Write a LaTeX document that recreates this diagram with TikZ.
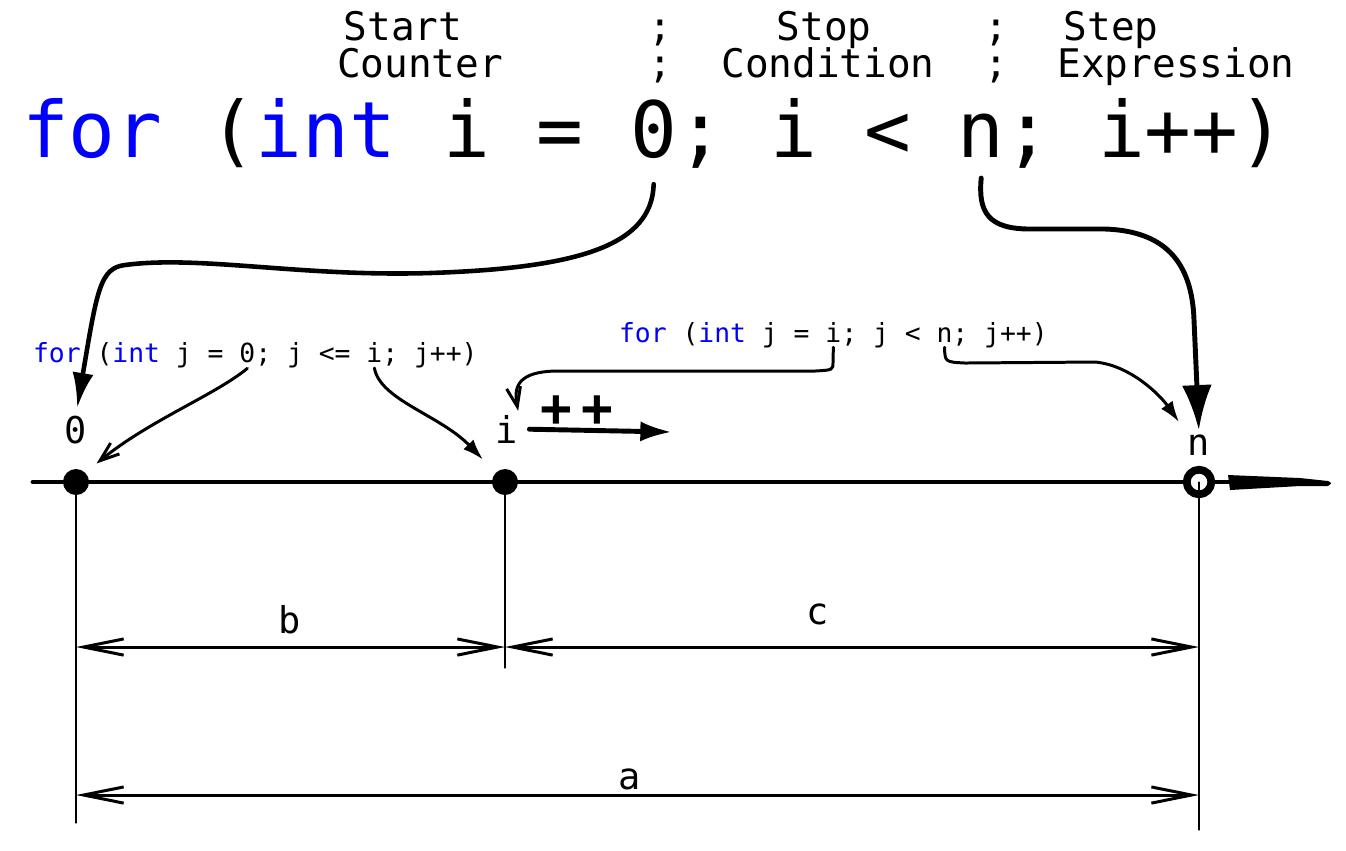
\documentclass[tikz,border=0pt]{standalone}
\usepackage{fontspec}
\newfontfamily\codefont{DejaVu Sans Mono}
\usetikzlibrary{arrows.meta}
\definecolor{keyword}{RGB}{0,0,255}
\newcommand{\kw}[1]{\textcolor{keyword}{#1}}
\newcommand{\codesp}{\mbox{\ }}

\begin{document}
\begin{tikzpicture}[x=0.01cm, y=-0.01cm, line cap=round, line join=round,
    bigcode/.style={inner sep=0, outer sep=0, anchor=base west, font=\codefont\fontsize{22.1}{26}\selectfont},
    smallcode/.style={inner sep=0, outer sep=0, anchor=base west, font=\codefont\fontsize{7.5}{9}\selectfont},
    headtxt/.style={inner sep=0, anchor=base, font=\codefont\fontsize{11.2}{13}\selectfont},
    lbl/.style={inner sep=0, anchor=base, font=\codefont\fontsize{10.5}{12}\selectfont},
    plustxt/.style={inner sep=0, font=\codefont\bfseries\fontsize{15}{17}\selectfont},
    ptdot/.style={circle, fill, inner sep=0, minimum size=7.4pt},
    ptring/.style={circle, draw, fill=white, line width=2.2pt, inner sep=0, minimum size=7pt},
    numline/.style={line width=1.4pt},
    extline/.style={line width=0.3pt},
    dimarrow/.style={line width=0.85pt, {Straight Barb[length=11.4pt,width=4.6pt]}-{Straight Barb[length=11.4pt,width=4.6pt]}},
    bigarrow/.style={line width=1.4pt, -{Latex[length=12.8pt,width=8.5pt]}},
    midarrow/.style={line width=1.3pt, -{Latex[length=10pt,width=6pt]}},
    thinarrow/.style={line width=0.85pt, -{Latex[length=6pt,width=4pt]}},
    thinbarb/.style={line width=0.85pt, -{Straight Barb[length=5.5pt,width=4pt]}}]
  \useasboundingbox (0,0) rectangle (1346,850);

  % headings above the loop
  \node[headtxt] (hstart) at (403,40) {Start};
  \node[headtxt] (hcounter) at (420,77) {Counter};
  \node[headtxt] (hsemi1) at (660,40) {;};
  \node[headtxt] (hsemi2) at (660,77) {;};
  \node[headtxt] (hstop) at (824,40) {Stop};
  \node[headtxt] (hcond) at (828,77) {Condition};
  \node[headtxt] (hsemi3) at (996,40) {;};
  \node[headtxt] (hsemi4) at (996,77) {;};
  \node[headtxt] (hstep) at (1111,40) {Step};
  \node[headtxt] (hexpr) at (1176,77) {Expression};

  % outer loop
  \node[bigcode] (c1) at (22,157) {\kw{for} (\kw{int} i =\codesp};
  \node[bigcode] (czero) at (c1.base east) {0};
  \node[bigcode] (c2) at (czero.base east) {; i <\codesp};
  \node[bigcode] (cn) at (c2.base east) {n};
  \node[bigcode] (c3) at (cn.base east) {; i++)};

  % inner loops
  \node[smallcode] (s1a) at (33,362) {\kw{for} (\kw{int} j =\codesp};
  \node[smallcode] (s1zero) at (s1a.base east) {0};
  \node[smallcode] (s1b) at (s1zero.base east) {; j <=\codesp};
  \node[smallcode] (s1i) at (s1b.base east) {i};
  \node[smallcode] (s1c) at (s1i.base east) {; j++)};
  \node[smallcode] (s2a) at (619,342) {\kw{for} (\kw{int} j =\codesp};
  \node[smallcode] (s2i) at (s2a.base east) {i};
  \node[smallcode] (s2b) at (s2i.base east) {; j <\codesp};
  \node[smallcode] (s2n) at (s2b.base east) {n};
  \node[smallcode] (s2c) at (s2n.base east) {; j++)};

  % number line
  \coordinate (lstart) at (33,482);
  \coordinate (lend) at (1228,482);
  \draw[numline] (lstart) -- (lend);
  \fill (1228,475) -- (1300,478) -- (1328,481) .. controls (1332,483) .. (1328,486) -- (1300,486) -- (1230,490) -- cycle;
  \node[ptdot] (p0) at (76,482) {};
  \node[ptdot] (pi) at (505,482) {};
  \node[ptring] (pn) at (1199,482) {};
  \node[lbl] (lzero) at (76,443) {0};
  \node[lbl] (li) at (507,443) {i};
  \node[lbl] (ln) at (1199,455) {n};

  % i++
  \coordinate (incr) at (672,432);
  \draw[line width=1.4pt, -{Latex[length=9pt,width=5.7pt]}, shorten <=3pt] (li.east) -- (incr);
  \node[plustxt] (incrlbl) at (577,411) {+\hspace{2.7pt}+};

  % extension lines
  \coordinate (e0) at (76,823);
  \coordinate (ei) at (505,668);
  \coordinate (en) at (1199,830);
  \draw[extline] (p0.center) -- (e0);
  \draw[extline] (pi.center) -- (ei);
  \draw[extline] (pn.center) -- (en);

  % dimensions
  \coordinate (b0) at (76,647);
  \coordinate (bi) at (505,647);
  \coordinate (bn) at (1199,647);
  \coordinate (a0) at (76,795);
  \coordinate (an) at (1199,795);
  \draw[dimarrow] (b0) -- (bi);
  \draw[dimarrow] (bi) -- (bn);
  \draw[dimarrow] (a0) -- (an);
  \node[lbl] (lb) at (290,633) {b};
  \node[lbl] (lc) at (818,624) {c};
  \node[lbl] (la) at (630,789) {a};

  % arrows from the code
  \draw[midarrow, shorten >=2pt] ([yshift=-7.4pt]czero.south) .. controls (652,245) and (580,268) .. (430,273)
    .. controls (300,277) and (200,255) .. (125,265) .. controls (100,268) and (97,290) .. (lzero.north);
  \draw[bigarrow, shorten >=1pt] ([yshift=-6pt]cn.south) .. controls (978,212) and (988,229) .. (1030,229) -- (1105,229)
    .. controls (1165,231) and (1192,262) .. (1194,320) -- (ln.north);
  \draw[thinbarb, shorten >=4pt] ([yshift=-1.7pt]s1zero.south) .. controls (215,395) and (150,420) .. (p0.north east);
  \draw[thinarrow, shorten >=5pt] ([yshift=-1.7pt]s1i.south) .. controls (380,400) and (440,415) .. (pi.north west);
  \draw[thinbarb, shorten >=1pt] ([yshift=-1.5pt]s2i.south) -- (833,362) .. controls (833,370) .. (815,371) -- (555,371)
    .. controls (520,372) and (513,385) .. (li.north east);
  \draw[thinarrow, shorten >=4pt] ([yshift=-1.5pt]s2n.south) .. controls (945,362) .. (965,363) -- (1095,362)
    .. controls (1130,365) and (1160,395) .. (ln.north west);
\end{tikzpicture}
\end{document}
